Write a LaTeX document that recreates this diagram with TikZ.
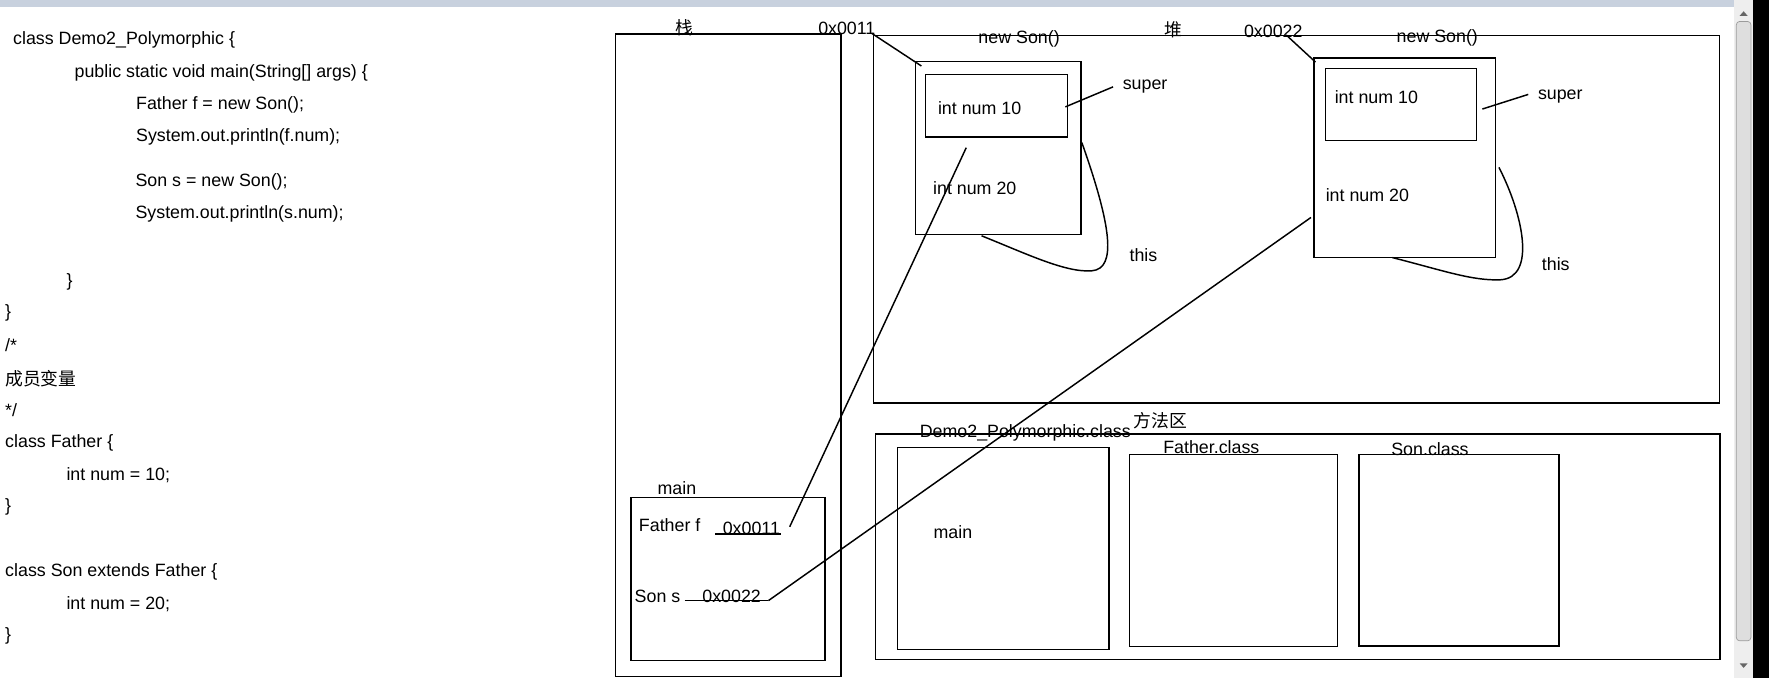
\documentclass[tikz,border=0pt]{standalone}
\usepackage{fontspec}
\setmainfont{Liberation Sans}
\newfontfamily\cjk{Noto Sans CJK SC}
\usetikzlibrary{positioning}
\definecolor{chrome}{RGB}{200,209,222}
\definecolor{track}{RGB}{238,238,238}
\definecolor{thumb}{RGB}{222,222,222}

\begin{document}
\begin{tikzpicture}[x=1pt,y=-1pt,line width=1.3pt,
    box/.style={draw,inner sep=0pt,anchor=north west},
    txt/.style={inner sep=0pt,font=\fontsize{15.8}{18}\selectfont},
    code/.style={txt,anchor=west}]
    \useasboundingbox (0,0) rectangle (1568,601);
    \fill[white] (0,0) rectangle (1568,601);
    \fill[chrome] (0,0) rectangle (1537,6.5);
    \fill[track] (1537,0) rectangle (1554,601);
    \fill[black] (1554,0) rectangle (1568,601);
    \draw[thumb!70!black,fill=thumb,line width=0.6pt,rounded corners=3pt] (1539,19) rectangle (1552,568);
    \fill[black!60] (1542,14) -- (1549,14) -- (1545.5,10) -- cycle;
    \fill[black!60] (1542,588) -- (1549,588) -- (1545.5,592) -- cycle;

    \node[code] (c1) at (11,35.5) {class Demo2\_Polymorphic \{};
    \node[code] (c2) at (65.5,64.4) {public static void main(String[] args) \{};
    \node[code] (c3) at (120,93) {Father f = new Son();};
    \node[code] (c4) at (120,121) {System.out.println(f.num);};
    \node[code] (c5) at (119.5,161.3) {Son s = new Son();};
    \node[code] (c6) at (119.5,190) {System.out.println(s.num);};
    \node[code] (c7) at (58.3,249.7) {\}};
    \node[code] (c8) at (4,277.6) {\}};
    \node[code] (c9) at (4,305.8) {/*};
    \node[code] (c10) at (4,335.4) {\cjk 成员变量};
    \node[code] (c11) at (4,363.4) {*/};
    \node[code] (c12) at (4,392.4) {class Father \{};
    \node[code] (c13) at (58.3,421) {int num = 10;};
    \node[code] (c14) at (4,449) {\}};
    \node[code] (c15) at (4,506.7) {class Son extends Father \{};
    \node[code] (c16) at (58.3,535.4) {int num = 20;};
    \node[code] (c17) at (4,563.8) {\}};

    \node[box,minimum width=200pt,minimum height=569.5pt] (stack) at (544.7,29.6) {};
    \node[box,minimum width=750pt,minimum height=325.4pt] (heap) at (773.4,31) {};
    \node[box,minimum width=748.6pt,minimum height=199.9pt] (method) at (775.2,384) {};
    \node[box,minimum width=146.9pt,minimum height=153.4pt] (obj1) at (810.7,54) {};
    \node[box,minimum width=126.2pt,minimum height=55pt] (in1) at (819.5,65.6) {};
    \node[box,minimum width=161pt,minimum height=177pt] (obj2) at (1164,50.6) {};
    \node[box,minimum width=133.6pt,minimum height=64pt] (in2) at (1174.4,60) {};
    \node[box,minimum width=172.2pt,minimum height=144.8pt] (mainfrm) at (558.5,440.2) {};
    \node[box,minimum width=187.5pt,minimum height=179pt] (democls) at (794.7,396) {};
    \node[box,minimum width=184.4pt,minimum height=170.2pt] (fathercls) at (1000.3,402.4) {};
    \node[box,minimum width=177.2pt,minimum height=169.4pt] (soncls) at (1203.8,402.4) {};

    \node[txt] (stacklbl) at (606.5,24.2) {\cjk 栈};
    \node[txt] (heaplbl) at (1039.7,26) {\cjk 堆};
    \node[txt] (methodlbl) at (1028.5,372.9) {\cjk 方法区};
    \node[txt] (adr1) at (750.6,25.1) {0x0011};
    \node[txt] (adr2) at (1128.6,28) {0x0022};
    \node[txt] (new1) at (903.3,34.9) {new Son()};
    \node[txt] (new2) at (1274,34) {new Son()};
    \node[txt] (n10a) at (868.3,96) {int num 10};
    \node[txt] (n20a) at (864,167) {int num 20};
    \node[txt] (n10b) at (1220,86) {int num 10};
    \node[txt] (n20b) at (1212,173) {int num 20};
    \node[txt] (sup1) at (1015,77) {super};
    \node[txt] (sup2) at (1383,85.7) {super};
    \node[txt] (this1) at (1013.5,226) {this};
    \node[txt] (this2) at (1379,234) {this};
    \node[txt] (mainlbl) at (600,432.9) {main};
    \node[txt] (ff) at (593.6,465.4) {Father f};
    \node[txt] (val1) at (666,468.3) {0x0011};
    \node[txt] (ss) at (582.8,528.9) {Son s};
    \node[txt] (val2) at (648.5,529) {0x0022};
    \node[txt] (demolbl) at (908.8,384.1) {Demo2\_Polymorphic.class};
    \node[txt] (fatherlbl) at (1073.7,396) {Father.class};
    \node[txt] (sonlbl) at (1267.5,398.3) {Son.class};
    \node[txt] (mainm) at (844.6,471.8) {main};

    \path (val1.east) ++(0,5) coordinate (u1);
    \path (val2.east) ++(0,3.4) coordinate (u2);
    \draw ([xshift=-6pt]val1.west) ++(0,5) -- ([xshift=0pt]u1);
    \draw ([xshift=-15pt]val2.west) ++(0,3.4) -- ([xshift=6pt]u2);

    \draw ([shift={(22,4.4)}]adr1.center) -- ([shift={(6,4.5)}]obj1.north west);
    \draw ([shift={(11.4,3)}]adr2.center) -- ([shift={(2,4.4)}]obj2.north west);
    \draw ([shift={(-2.7,1)}]in1.east) -- ([shift={(-8,0)}]sup1.west);
    \draw ([shift={(4.6,4)}]in2.east) -- ([shift={(-8,-2)}]sup2.west);
    \draw ([shift={(-14.8,0.3)}]obj1.south) .. controls (910,225) and (945,242) .. (968,240)
        .. controls (990,238) and (985,200) .. ([shift={(0,-5)}]obj1.east);
    \draw ([shift={(-11,-0.6)}]obj2.south) .. controls (1280,240) and (1305,249) .. (1330,248)
        .. controls (1362,246) and (1350,190) .. ([shift={(2.3,8.6)}]obj2.east);
    \draw ([shift={(8,-1.4)}]val1.east) -- ([shift={(-26.8,9)}]in1.south);
    \draw ([xshift=6pt]u2) -- ([shift={(-2,53)}]obj2.west);
\end{tikzpicture}
\end{document}
